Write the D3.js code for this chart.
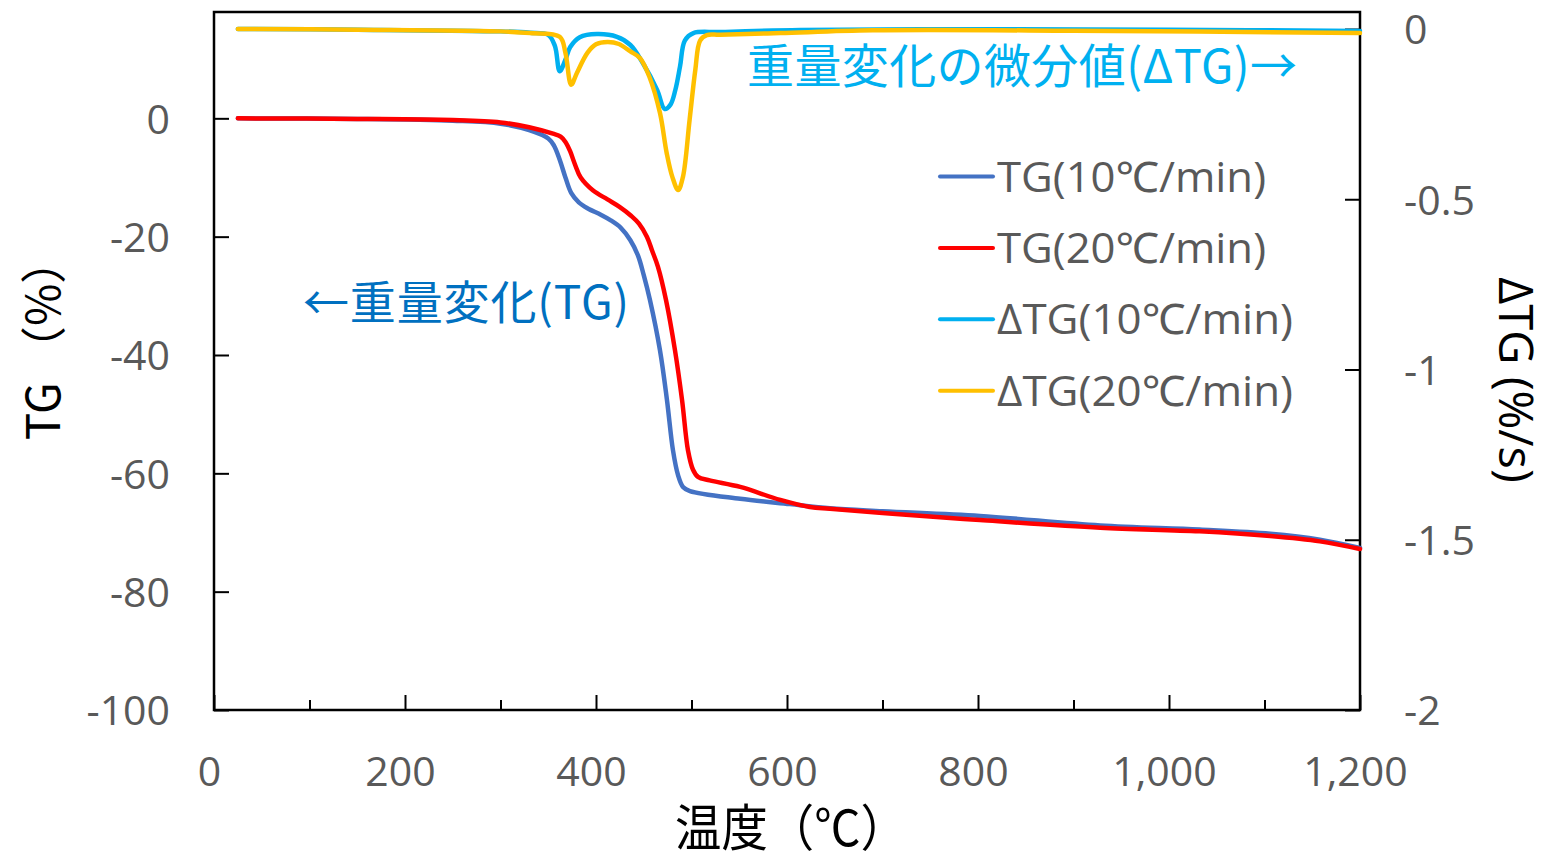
<!DOCTYPE html>
<html>
<head>
<meta charset="utf-8">
<script src="https://cdn.jsdelivr.net/npm/d3@7"></script>
<style>
  body { margin: 0; background: #fff; }
  svg { display: block; }
</style>
</head>
<body>
<svg id="chart" width="1544" height="853"></svg>
<script>
// Axis ticks
const tempTicks = [0, 200, 400, 600, 800, 1000, 1200];
const tempMinorTicks = [100, 300, 500, 700, 900, 1100];
const tempTickLabels = ["0", "200", "400", "600", "800", "1,000", "1,200"];
const tgTicks = [0, -20, -40, -60, -80, -100];
const tgTickLabels = ["0", "-20", "-40", "-60", "-80", "-100"];
const dtgTicks = [0, -0.5, -1, -1.5, -2];
const dtgTickLabels = ["0", "-0.5", "-1", "-1.5", "-2"];

// Weight change TG (%) against temperature (°C)
const tg10 = [
  [25, 0], [150, -0.1], [250, -0.4], [300, -0.9], [330, -2.0], [350, -3.4],
  [356, -4.6], [362, -7.0], [368, -10.0], [374, -12.6], [382, -14.2], [391, -15.2],
  [405, -16.3], [415, -17.2], [426, -18.5], [436, -20.6], [444, -23.2], [450, -26.5],
  [456.5, -30.7], [467, -39.2], [474.3, -47.6], [480.6, -56.1], [485.9, -60.3], [491.1, -62.3],
  [498.4, -63.0], [551, -64.3], [603, -65.2], [645, -65.9], [700, -66.4], [802, -67.2],
  [928, -68.8], [1032, -69.5], [1106, -70.2], [1158, -71.2], [1200, -72.6]
];
const tg20 = [
  [25, 0], [150, -0.1], [250, -0.3], [300, -0.7], [330, -1.5], [355, -2.6],
  [363, -3.1], [368, -4.0], [373, -5.6], [378, -7.8], [384, -10.0], [397, -12.2],
  [412, -13.7], [425, -15.0], [437, -16.5], [445, -17.8], [453.4, -20.05], [458.6, -22.3],
  [464.9, -25.1], [473.3, -30.7], [482.7, -39.2], [490.1, -47.6], [496.3, -56.1], [501.6, -59.4],
  [506.8, -60.6], [519, -61.2], [551, -62.3], [593, -64.5], [624, -65.7], [645, -66.0],
  [700, -66.7], [802, -67.9], [928, -69.2], [1032, -69.8], [1106, -70.6], [1158, -71.5],
  [1200, -72.8]
];

// Derivative ΔTG (%/s) against temperature (°C)
const dtg10 = [
  [25, 0], [150, -0.002], [300, -0.007], [331, -0.011], [350, -0.017], [357, -0.05],
  [362, -0.124], [368, -0.09], [373, -0.053], [383, -0.024], [401, -0.015], [422, -0.023],
  [436, -0.047], [449, -0.1], [464, -0.179], [472, -0.235], [478, -0.222], [483, -0.18],
  [488, -0.11], [493, -0.034], [502, -0.012], [530, -0.009], [614, -0.003], [823, -0.001],
  [1000, -0.002], [1200, -0.006]
];
const dtg20 = [
  [25, 0], [150, -0.002], [300, -0.007], [331, -0.012], [362, -0.023], [368, -0.07],
  [374, -0.164], [380, -0.129], [391, -0.07], [400, -0.045], [412, -0.038], [424, -0.044],
  [436, -0.066], [446, -0.085], [456, -0.141], [467, -0.247], [474, -0.364], [480, -0.435],
  [486, -0.473], [491, -0.435], [498, -0.267], [504, -0.12], [509, -0.034], [516, -0.018],
  [530, -0.017], [593, -0.012], [690, -0.004], [900, -0.005], [1200, -0.012]
];

const seriesNames = ["TG(10℃/min)", "TG(20℃/min)", "ΔTG(10℃/min)", "ΔTG(20℃/min)"];
const seriesColors = ["#4472C4", "#FF0000", "#00B0F0", "#FFC000"];

const svg = d3.select("#chart");
const plot = { left: 214, right: 1360, top: 12, bottom: 710 };

const x = d3.scaleLinear().domain([0, 1200]).range([plot.left, plot.right]);
const yL = d3.scaleLinear().domain([-100, 17.97]).range([plot.bottom, plot.top]);
const yR = d3.scaleLinear().domain([-2, 0.0499]).range([plot.bottom, plot.top]);

const tickFont = "'Open Sans', 'Noto Sans', 'Noto Sans CJK JP', sans-serif";
const cjkFont = "'Noto Sans CJK JP', 'Noto Sans', sans-serif";
const grey = "#595959";

// Frame of the plot area
svg.append("rect")
  .attr("x", plot.left).attr("y", plot.top)
  .attr("width", plot.right - plot.left).attr("height", plot.bottom - plot.top)
  .attr("fill", "none").attr("stroke", "#000").attr("stroke-width", 2.5);

// Left axis (TG)
const leftAxis = d3.axisRight(yL).tickValues(tgTicks).tickSize(15)
  .tickFormat((d, i) => tgTickLabels[i]);
const gL = svg.append("g").attr("transform", `translate(${plot.left},0)`).call(leftAxis);
gL.select(".domain").remove();
gL.selectAll(".tick line").attr("stroke", "#000").attr("stroke-width", 2);
gL.selectAll(".tick text")
  .attr("x", -44).attr("dy", "0.36em").attr("text-anchor", "end")
  .attr("fill", grey).style("font-family", tickFont).style("font-size", "41px");

// Right axis (ΔTG)
const rightAxis = d3.axisLeft(yR).tickValues(dtgTicks).tickSize(15)
  .tickFormat((d, i) => dtgTickLabels[i]);
const gR = svg.append("g").attr("transform", `translate(${plot.right},0)`).call(rightAxis);
gR.select(".domain").remove();
gR.selectAll(".tick line").attr("stroke", "#000").attr("stroke-width", 2);
gR.selectAll(".tick text")
  .attr("x", 44).attr("dy", "0.36em").attr("text-anchor", "start")
  .attr("fill", grey).style("font-family", tickFont).style("font-size", "41px");

// Bottom axis (temperature), major and minor ticks pointing inward
const bottomAxis = d3.axisTop(x).tickValues(tempTicks).tickSize(15)
  .tickFormat((d, i) => tempTickLabels[i]);
const gB = svg.append("g").attr("transform", `translate(0,${plot.bottom})`).call(bottomAxis);
gB.select(".domain").remove();
gB.selectAll(".tick line").attr("stroke", "#000").attr("stroke-width", 2);
gB.selectAll(".tick text")
  .attr("y", 76).attr("dx", "-5").attr("text-anchor", "middle")
  .attr("fill", grey).style("font-family", tickFont).style("font-size", "41px");

const gMinor = svg.append("g").attr("transform", `translate(0,${plot.bottom})`)
  .call(d3.axisTop(x).tickValues(tempMinorTicks).tickSize(10).tickFormat(""));
gMinor.select(".domain").remove();
gMinor.selectAll(".tick line").attr("stroke", "#000").attr("stroke-width", 2);

// Axis titles
svg.append("text")
  .attr("transform", "translate(60,339) rotate(-90)")
  .attr("text-anchor", "middle")
  .style("font-family", cjkFont).style("font-size", "46px").attr("fill", "#000")
  .text("TG （%）");

svg.append("text")
  .attr("transform", "translate(1499,380) rotate(90)")
  .attr("text-anchor", "middle")
  .style("font-family", tickFont).style("font-size", "47px").attr("fill", "#000")
  .text("ΔTG (%/s)");

svg.append("text")
  .attr("x", 675).attr("y", 846)
  .attr("textLength", 232).attr("lengthAdjust", "spacingAndGlyphs")
  .style("font-family", cjkFont).style("font-size", "50px").attr("fill", "#000")
  .text("温度（℃）");

// Curves: centripetal Catmull-Rom keeps the near-vertical drops smooth
const curve = d3.curveCatmullRom.alpha(0.5);
const lineL = d3.line().x(d => x(d[0])).y(d => yL(d[1])).curve(curve);
const lineR = d3.line().x(d => x(d[0])).y(d => yR(d[1])).curve(curve);

const curves = [
  { data: tg10, gen: lineL, color: seriesColors[0] },
  { data: tg20, gen: lineL, color: seriesColors[1] },
  { data: dtg10, gen: lineR, color: seriesColors[2] },
  { data: dtg20, gen: lineR, color: seriesColors[3] }
];

svg.append("g").selectAll("path").data(curves).join("path")
  .attr("d", c => c.gen(c.data))
  .attr("fill", "none")
  .attr("stroke", c => c.color)
  .attr("stroke-width", 4.5)
  .attr("stroke-linejoin", "round")
  .attr("stroke-linecap", "round");

// Annotations
svg.append("text")
  .attr("x", 747).attr("y", 83)
  .attr("textLength", 550).attr("lengthAdjust", "spacing")
  .style("font-family", cjkFont).style("font-size", "47px").attr("fill", "#00B0F0")
  .text("重量変化の微分値(ΔTG)→");

svg.append("text")
  .attr("x", 303).attr("y", 319)
  .attr("textLength", 326).attr("lengthAdjust", "spacing")
  .style("font-family", cjkFont).style("font-size", "46px").attr("fill", "#0070C0")
  .text("←重量変化(TG)");

// Legend
const legendWidths = [269, 269, 296, 296];
const legend = svg.append("g").attr("transform", "translate(938,176.5)");
const items = legend.selectAll("g").data(seriesNames).join("g")
  .attr("transform", (d, i) => `translate(0,${i * 71.4})`);
items.append("line")
  .attr("x1", 2).attr("x2", 55).attr("y1", 0).attr("y2", 0)
  .attr("stroke", (d, i) => seriesColors[i]).attr("stroke-width", 4)
  .attr("stroke-linecap", "round");
items.append("text")
  .attr("x", 59).attr("y", 15)
  .attr("textLength", (d, i) => legendWidths[i]).attr("lengthAdjust", "spacingAndGlyphs")
  .style("font-family", tickFont).style("font-size", "42px").attr("fill", grey)
  .text(d => d);
</script>
</body>
</html>
